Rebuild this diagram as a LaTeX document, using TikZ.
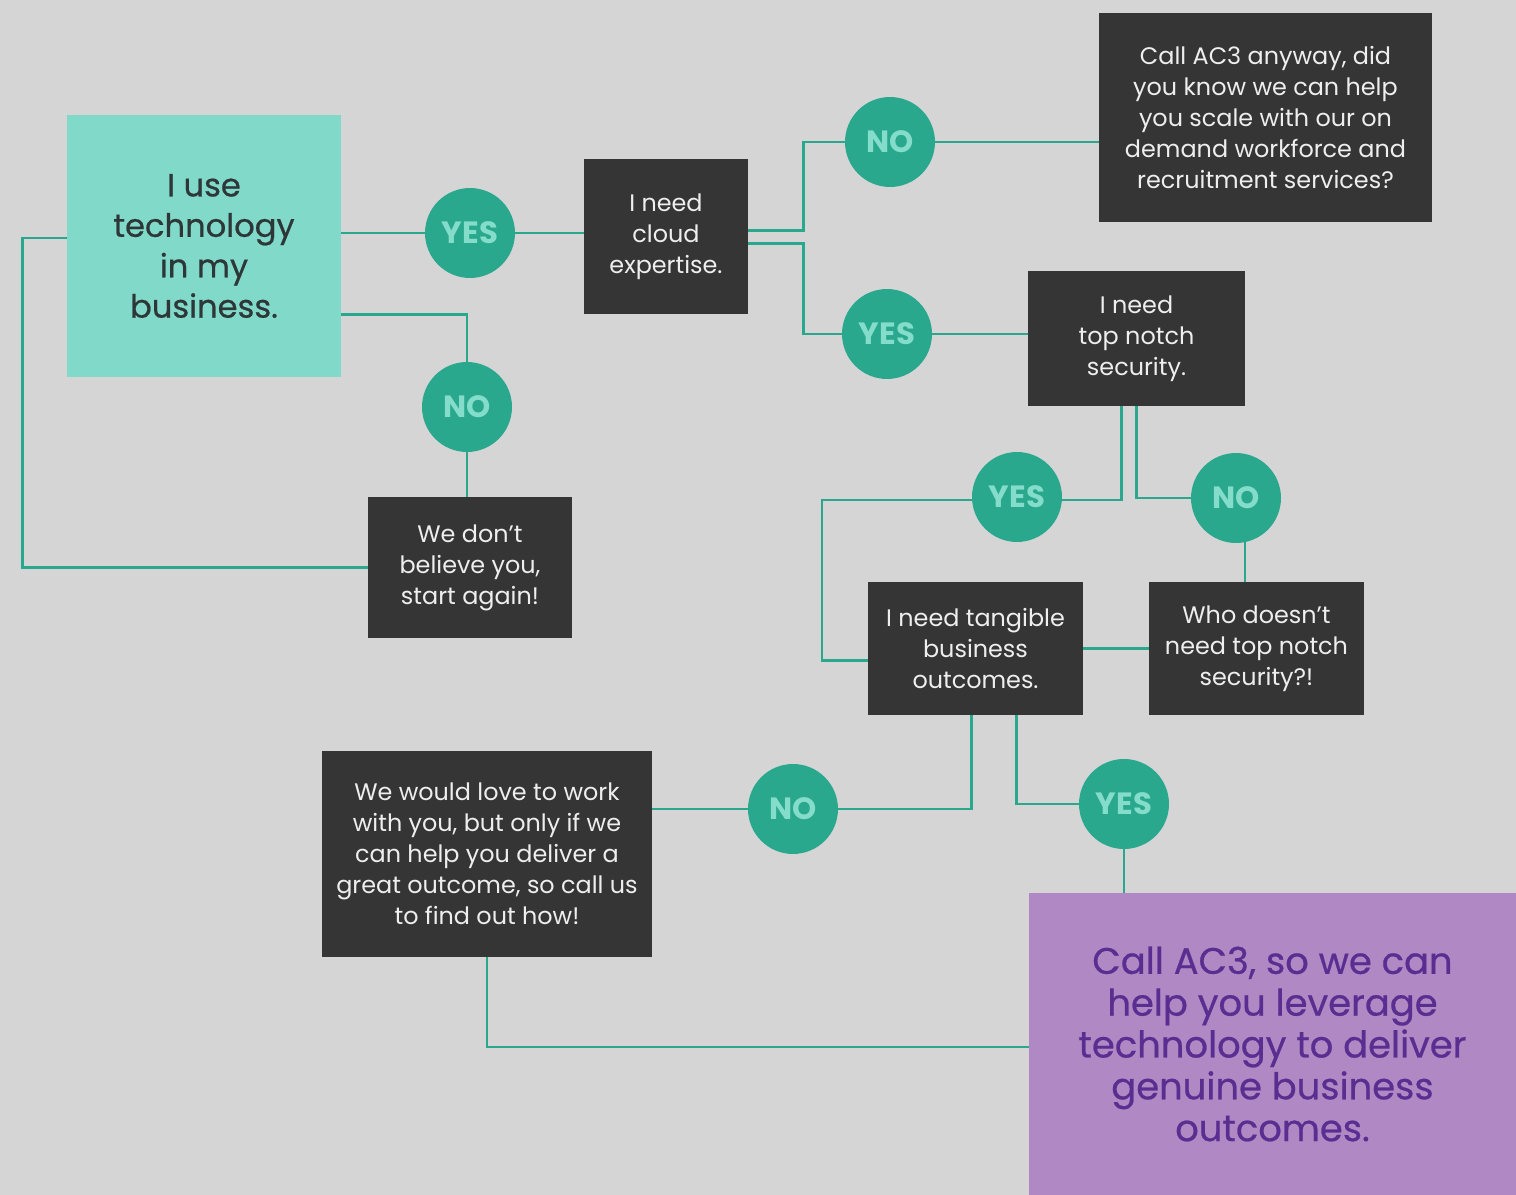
\documentclass[tikz,border=0pt]{standalone}
\usepackage{fontspec}
\setmainfont{Poppins}
\newfontfamily\medfont[FakeBold=0.6]{Poppins}
\usepackage{xcolor}
\usepackage{tikz}
\usetikzlibrary{positioning, calc, backgrounds}
\definecolor{ACGrey}{RGB}{213, 213, 213}
\definecolor{ACTeal}{RGB}{42, 168, 142}
\definecolor{ACMint}{RGB}{129, 217, 202}
\definecolor{ACMintText}{RGB}{132, 220, 202}
\definecolor{ACDark}{RGB}{53, 53, 53}
\definecolor{ACText}{RGB}{238, 238, 238}
\definecolor{ACLilac}{RGB}{176, 136, 196}
\definecolor{ACPurple}{RGB}{90, 45, 145}
\definecolor{ACInk}{RGB}{45, 55, 55}

\tikzset{
  darkbox/.style={fill=ACDark, text=ACText, align=center, inner sep=0pt,
    font=\fontsize{13.6}{17.7}\selectfont},
  answer/.style={circle, fill=ACTeal, text=ACMintText, minimum size=1.8cm,
    inner sep=0pt, font=\fontsize{17.5}{19}\selectfont\bfseries},
  link/.style={draw=ACTeal, line width=1.4pt}
}

\begin{document}
\begin{tikzpicture}[x=0.02cm, y=-0.02cm]
  \useasboundingbox (0,0) rectangle (1516,1195);

  % boxes
  \node[fill=ACMint, text=ACInk, align=center, inner sep=0pt,
    minimum width=5.48cm, minimum height=5.24cm,
    font=\medfont\fontsize{18.3}{23}\selectfont] (start) at (204,246)
    {I use\\technology\\in my\\business.};
  \node[darkbox, minimum width=3.28cm, minimum height=3.1cm] (cloud) at (666,236.5)
    {I need\\cloud\\expertise.};
  \node[darkbox, minimum width=6.66cm, minimum height=4.18cm] (anyway) at (1265.5,117.5)
    {Call AC3 anyway, did\\you know we can help\\you scale with our on\\demand workforce and\\recruitment services?};
  \node[darkbox, minimum width=4.34cm, minimum height=2.7cm] (secure) at (1136.5,338.5)
    {I need\\top notch\\security.};
  \node[darkbox, minimum width=4.3cm, minimum height=2.66cm] (tangible) at (975.5,648.5)
    {I need tangible\\business\\outcomes.};
  \node[darkbox, minimum width=4.3cm, minimum height=2.66cm] (who) at (1256.5,648.5)
    {Who doesn’t\\need top notch\\security?!};
  \node[darkbox, minimum width=4.08cm, minimum height=2.82cm] (dont) at (470,567.5)
    {We don’t\\believe you,\\start again!};
  \node[darkbox, minimum width=6.6cm, minimum height=4.12cm] (love) at (487,854)
    {We would love to work\\with you, but only if we\\can help you deliver a\\great outcome, so call us\\to find out how!};
  \node[fill=ACLilac, text=ACPurple, align=center, inner sep=0pt,
    minimum width=9.74cm, minimum height=6.04cm,
    font=\medfont\fontsize{21}{23.8}\selectfont] (final) at (1272.5,1044)
    {Call AC3, so we can\\help you leverage\\technology to deliver\\genuine business\\outcomes.};

  % answers
  \node[answer] (yes1) at (470,233) {YES};
  \node[answer] (no1) at (467,407) {NO};
  \node[answer] (no2) at (890,142) {NO};
  \node[answer] (yes2) at (887,334) {YES};
  \node[answer] (yes3) at (1017,497) {YES};
  \node[answer] (no3) at (1236,498) {NO};
  \node[answer] (no4) at (793,809) {NO};
  \node[answer] (yes4) at (1124,804) {YES};

  \begin{scope}[on background layer]
    \fill[ACGrey] (0,0) rectangle (1516,1195);
    % connectors
    \draw[link] (start.east |- yes1) -- (yes1) -- (cloud.west |- yes1);
    \draw[link] ($(start.south east)+(0,-63)$) -| (no1) -- (dont.north -| no1);
    \draw[link] (dont.west) -- ++(-345,0) |- ($(start.west)+(0,-8)$);
    \draw[link] ($(cloud.east)+(0,-6)$) -- ++(55,0) |- (no2) -- (anyway.west |- no2);
    \draw[link] ($(cloud.east)+(0,7)$) -- ++(55,0) |- (yes2) -- (secure.west |- yes2);
    \draw[link] ($(secure.south)+(-15,0)$) |- ($(yes3)+(0,3)$) -- ++(-195,0) |- ($(tangible.west)+(0,12)$);
    \draw[link] (secure.south) |- (no3);
    \draw[link] ($(no3)+(9,0)$) -- ++(0,84);
    \draw[link] (tangible.east) -- (who.west);
    \draw[link] ($(tangible.south)+(-4,0)$) |- (no4) -- (love.east |- no4);
    \draw[link] ($(tangible.south)+(41,0)$) |- (yes4) -- (final.north -| yes4);
    \draw[link] (love.south) |- ($(final.west)+(0,3)$);
  \end{scope}
\end{tikzpicture}
\end{document}
